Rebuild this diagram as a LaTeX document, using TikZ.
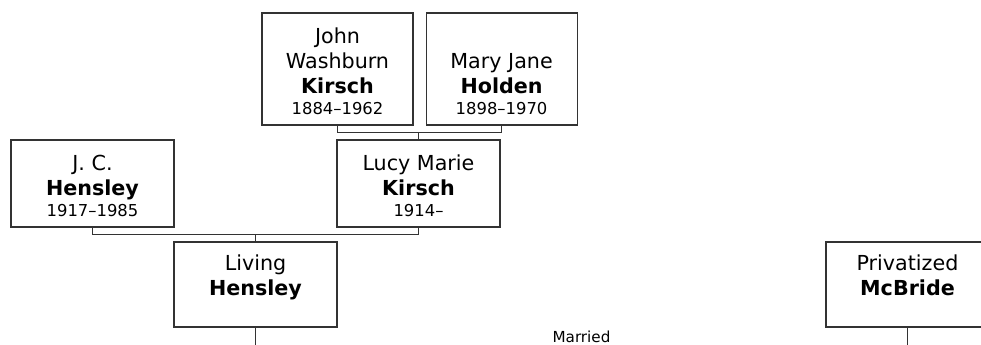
\documentclass[tikz,border=0pt]{standalone}
\usepackage{fontspec}
\setmainfont{DejaVu Sans}
\usetikzlibrary{positioning, calc}
\newcommand{\namefont}{\fontsize{15.5}{18.75}\selectfont}
\newcommand{\datefont}{\fontsize{12.3}{16}\selectfont}
% box content: height, given names, surname, years
\newcommand{\person}[4]{\parbox[c][#1][b]{100pt}{\centering\namefont #2\\\textbf{#3}\par{\datefont #4\par}}}
\tikzset{
  person/.style={rectangle, draw=black!80, line width=0.8pt, inner sep=0pt},
  elder/.style={person, minimum width=113.25pt, minimum height=84pt},
  parent/.style={person, minimum width=122.25pt, minimum height=65.25pt},
  child/.style={person, minimum width=122.25pt, minimum height=63.75pt},
  link/.style={draw=black!80, line width=0.8pt},
}
\begin{document}
\begin{tikzpicture}[x=0.75pt, y=-0.75pt]
  \clip (0,0) rectangle (981,345);
  % grandparents
  \node[elder] (john) at (337.5,69)
    {\person{69pt}{John\\Washburn}{Kirsch}{1884--1962}};
  \node[elder, right=9pt of john] (mary)
    {\person{69pt}{Mary Jane}{Holden}{1898--1970}};
  % parents
  \node[parent] (jc) at (92.5,183.5)
    {\person{50.25pt}{J. C.}{Hensley}{1917--1985}};
  \node[parent] (lucy) at (418.5,183.5)
    {\person{50.25pt}{Lucy Marie}{Kirsch}{1914--}};
  % couple
  \node[child] (living) at (255.5,284.5)
    {\person{48.75pt}{Living}{Hensley}{\mbox{}}};
  \node[child] (mcbride) at (907.5,284.5)
    {\person{48.75pt}{Privatized}{McBride}{\mbox{}}};
  \node[font=\fontsize{11.4}{13}\selectfont, inner sep=0pt] (married)
    at ($(living.south)!0.5!(mcbride.south)+(0,9)$) {Married};

  \coordinate (kirschbar) at ($(john.south)+(0,7)$);
  \draw[link] (john.south) -- (kirschbar) -| (mary.south);
  \draw[link] (lucy.north) -- (lucy.north |- kirschbar);
  \coordinate (hensleybar) at ($(jc.south)+(0,7)$);
  \draw[link] (jc.south) -- (hensleybar) -| (lucy.south);
  \draw[link] (living.north) -- (living.north |- hensleybar);
  \coordinate (edge) at (0,350);
  \draw[link] (living.south) -- (living.south |- edge);
  \draw[link] (mcbride.south) -- (mcbride.south |- edge);
\end{tikzpicture}
\end{document}
